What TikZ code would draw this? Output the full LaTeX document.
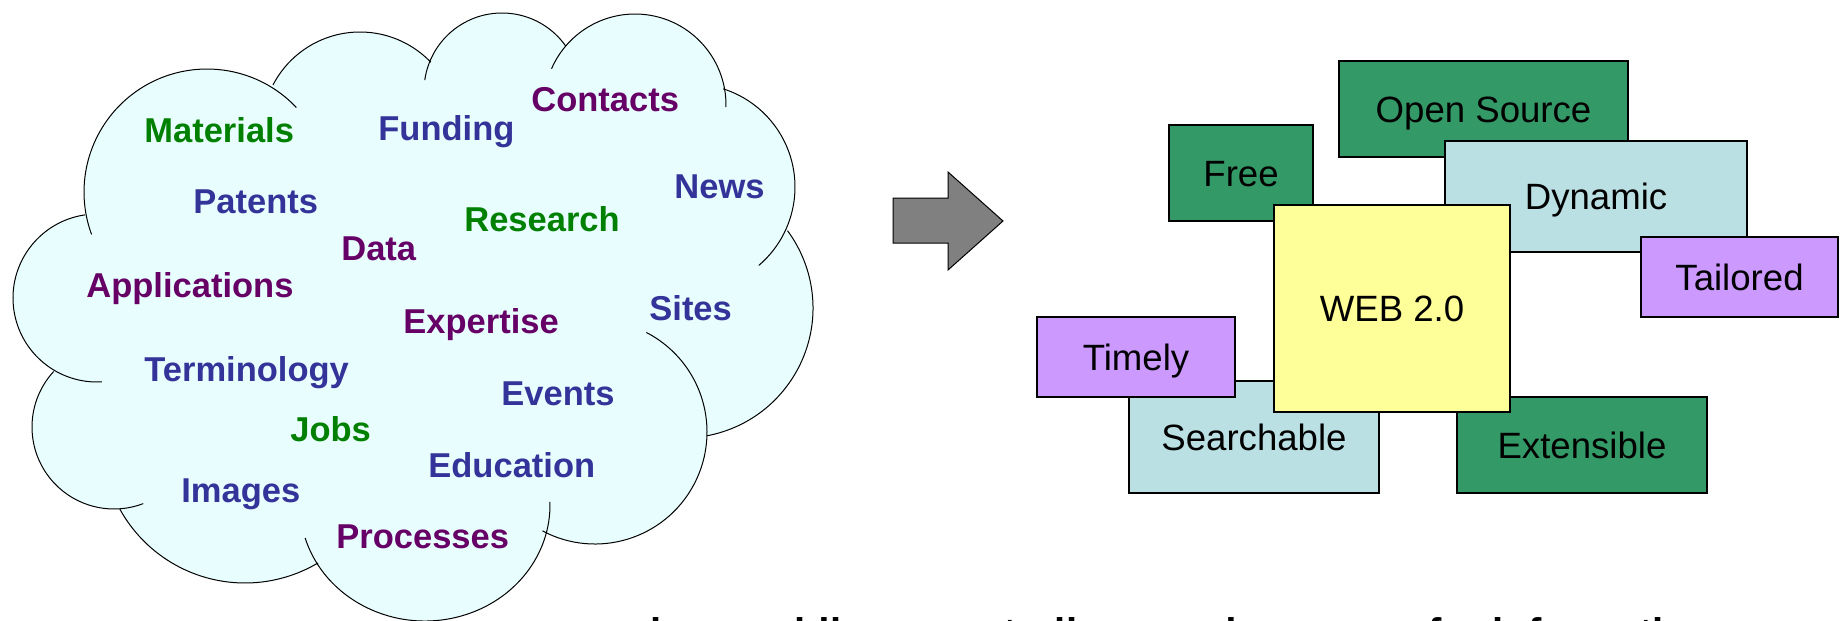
\documentclass[tikz,border=0pt]{standalone}
\usepackage{fontspec}
\setmainfont{Liberation Sans}
\definecolor{wordgreen}{RGB}{0,128,0}
\definecolor{wordblue}{RGB}{51,51,153}
\definecolor{wordpurple}{RGB}{102,0,102}
\definecolor{cloudfill}{RGB}{232,253,253}
\definecolor{boxgreen}{RGB}{51,153,102}
\definecolor{boxblue}{RGB}{187,224,227}
\definecolor{boxpurple}{RGB}{204,153,255}
\definecolor{boxyellow}{RGB}{255,255,153}
\newcommand{\wordfont}{\fontsize{17.25pt}{20pt}\selectfont\bfseries}
\newcommand{\boxfont}{\fontsize{18.3pt}{22pt}\selectfont}
\tikzstyle{word} = [inner sep=0pt, anchor=base west, font=\wordfont]
\tikzstyle{gword} = [word, text=wordgreen]
\tikzstyle{bword} = [word, text=wordblue]
\tikzstyle{pword} = [word, text=wordpurple]
\tikzstyle{tag} = [rectangle, draw=black, line width=0.9pt, inner sep=0pt, text centered, text height=13.1pt, text depth=0pt, font=\boxfont]
\tikzstyle{greentag} = [tag, fill=boxgreen]
\tikzstyle{bluetag} = [tag, fill=boxblue]
\tikzstyle{purpletag} = [tag, fill=boxpurple]
\tikzstyle{yellowtag} = [tag, fill=boxyellow]
\tikzstyle{cloudline} = [draw=black, line width=0.5pt]
\tikzstyle{blockarrow} = [draw=black, fill=black!50, line width=0.5pt, line join=miter]

\begin{document}
\begin{tikzpicture}[x=0.5pt, y=-0.5pt]
\useasboundingbox (0,0) rectangle (1847,621);
\clip (0,0) rectangle (1847,621);

% cloud
\fill[cloudfill] (85,215) -- (52,370) -- (120,509) -- (318,563) -- (543,530) -- (707,436) -- (788,230) -- (723,89) -- (567,45) -- (430,63) -- (273,85) -- cycle;
\foreach \cx/\cy/\rx/\ry/\a/\b in {207/192/123/123/-43.4/-200.2, 360/130/98/98/-43.7/-152.6, 502/91/78/78/-35.3/-172, 635/105/91/91/1.3/-156.5, 692/187/103/103/49.6/-72.4, 683/308/130/130/79.4/-36.5, 595/432/112/112/118/-62.7, 425/505/125/116/163.5/-1.5, 97/298/84/84/-98.2/-273.4, 114/427/82/82/-137.4/-290.9, 245/440/143/143/-208.9/-300.7}
  \fill[cloudfill] (\cx,\cy) ellipse [x radius=\rx, y radius=\ry];
\foreach \cx/\cy/\rx/\ry/\a/\b in {207/192/123/123/-43.4/-200.2, 360/130/98/98/-43.7/-152.6, 502/91/78/78/-35.3/-172, 635/105/91/91/1.3/-156.5, 692/187/103/103/49.6/-72.4, 683/308/130/130/79.4/-36.5, 595/432/112/112/118/-62.7, 425/505/125/116/163.5/-1.5, 97/298/84/84/-98.2/-273.4, 114/427/82/82/-137.4/-290.9, 245/440/143/143/-208.9/-300.7}
  \draw[cloudline] ([shift={(\a:{\rx} and {\ry})}]\cx,\cy) arc [start angle=\a, end angle=\b, x radius=\rx, y radius=\ry];

\node (materials) [gword] at (144,142) {Materials};
\node (funding) [bword] at (378,140) {Funding};
\node (contacts) [pword] at (531,111) {Contacts};
\node (news) [bword] at (674,198) {News};
\node (patents) [bword] at (193,213) {Patents};
\node (research) [gword] at (464,231) {Research};
\node (data) [pword] at (341,260) {Data};
\node (applications) [pword] at (86,297) {Applications};
\node (expertise) [pword] at (403,333) {Expertise};
\node (sites) [bword] at (649,320) {Sites};
\node (terminology) [bword] at (144,381) {Terminology};
\node (events) [bword] at (501,405) {Events};
\node (jobs) [gword] at (290,441) {Jobs};
\node (education) [bword] at (428,477) {Education};
\node (images) [bword] at (181,502) {Images};
\node (processes) [pword] at (336,548) {Processes};

\filldraw[blockarrow] (893,198) -- (948,198) -- (948,172) -- (1003,221) -- (948,270) -- (948,243) -- (893,243) -- cycle;

\node (opensrc) [greentag, minimum width=144.5pt, minimum height=48pt] at (1483.5,109) {Open Source};
\node (dynamic) [bluetag, minimum width=151pt, minimum height=55.5pt] at (1596,196.5) {Dynamic};
\node (tailored) [purpletag, minimum width=98.5pt, minimum height=40pt] at (1739.5,277) {Tailored};
\node (free) [greentag, minimum width=72pt, minimum height=48pt] at (1241,173) {Free};
\node (searchable) [bluetag, minimum width=125pt, minimum height=56pt] at (1254,437) {Searchable};
\node (timely) [purpletag, minimum width=99pt, minimum height=40pt] at (1136,357) {Timely};
\node (extensible) [greentag, minimum width=125pt, minimum height=48pt] at (1582,445) {Extensible};
\node (web) [yellowtag, minimum width=118pt, minimum height=103.5pt] at (1392,308.5) {WEB 2.0};

\node (source) [anchor=base west, inner sep=0pt, font=\fontsize{20pt}{24pt}\selectfont\bfseries] at (650,646) {by providing a centrally owned resource for information};

\end{tikzpicture}
\end{document}
